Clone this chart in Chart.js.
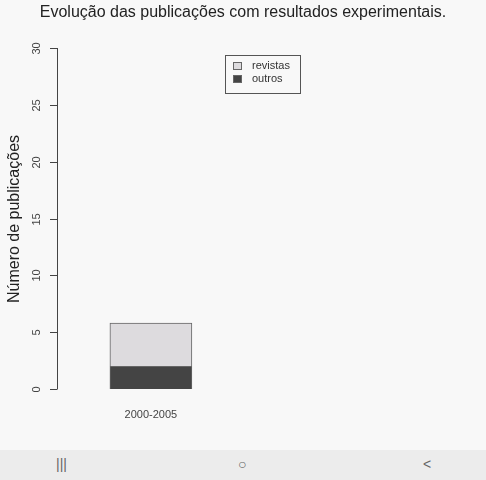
<!DOCTYPE html>
<html><head><meta charset="utf-8">
<script src="https://cdn.jsdelivr.net/npm/chart.js@4/dist/chart.umd.min.js"></script>
<style>
html,body{margin:0;padding:0;background:#f8f8f8;width:486px;height:480px;overflow:hidden;font-family:"Liberation Sans",Arial,sans-serif}
#wrap{position:absolute;left:0;top:0;width:486px;height:450px}
#nav{position:absolute;left:0;top:450px;width:486px;height:30px;background:#ececec;color:#666;font-size:14px}
#nav span{position:absolute;top:6px}
</style></head><body>
<div id="wrap"><canvas id="c" width="486" height="450"></canvas></div>
<div id="nav"><span style="left:56px;color:#666">|||</span><span style="left:238px">○</span><span style="left:423px">&lt;</span></div>
<script>
const categories=['','2000-2005','','',''];
const outros=[null,2,null,null,null];
const revistas=[null,3.8,null,null,null];
const yTicks=[0,5,10,15,20,25,30];
const seriesNames=['revistas','outros'];
const chartTitle='Evolução das publicações com resultados experimentais.';
const yTitle='Número de publicações';

const deco={id:'deco',afterDraw(ch){
  const c=ch.ctx,y=ch.scales.y,x=ch.scales.x;
  c.save();
  c.fillStyle='#222';c.font='16px "Liberation Sans",Arial';c.textAlign='center';c.textBaseline='middle';
  c.fillText(chartTitle,243,13);
  c.translate(15,219);c.rotate(-Math.PI/2);c.font='16px "Liberation Sans",Arial';c.fillText(yTitle,0,0);
  c.restore();c.save();
  c.strokeStyle='#444';c.lineWidth=1;
  const ax=57.5;c.beginPath();c.moveTo(ax,y.getPixelForValue(0));c.lineTo(ax,y.getPixelForValue(30));c.stroke();
  c.fillStyle='#444';c.font='11px "Liberation Sans",Arial';c.textAlign='center';c.textBaseline='middle';
  yTicks.forEach(v=>{const p=Math.round(y.getPixelForValue(v))+0.5;c.beginPath();c.moveTo(ax,p);c.lineTo(50,p);c.stroke();
    c.save();c.translate(37,p);c.rotate(-Math.PI/2);c.fillText(String(v),0,0);c.restore();});
  categories.forEach((l,i)=>{if(l)c.fillText(l,x.getPixelForValue(i),415);});
  c.strokeStyle='#555';c.strokeRect(225.5,55.5,75,38);
  c.font='11px "Liberation Sans",Arial';c.textAlign='left';
  const cols=['#dddbde','#444'];
  seriesNames.forEach((n,i)=>{const yy=66+i*13;c.fillStyle=cols[i];c.fillRect(233,yy-4,9,8);c.strokeStyle='#666';c.strokeRect(233.5,yy-3.5,8,7);c.fillStyle='#333';c.fillText(n,252,yy);});
  c.restore();
}};
new Chart(document.getElementById('c'),{type:'bar',
 data:{labels:categories,datasets:[
  {label:'outros',data:outros,backgroundColor:'#444444',borderColor:'#666',borderWidth:1,barThickness:82},
  {label:'revistas',data:revistas,backgroundColor:'#dddbde',borderColor:'#666',borderWidth:1,barThickness:82}]},
 options:{responsive:false,animation:false,layout:{padding:{left:57,top:48,bottom:61,right:116}},
  plugins:{legend:{display:false},title:{display:false},tooltip:{enabled:false}},
  scales:{x:{stacked:true,display:false},y:{stacked:true,display:false,min:0,max:30}}},
 plugins:[deco]});
</script></body></html>
